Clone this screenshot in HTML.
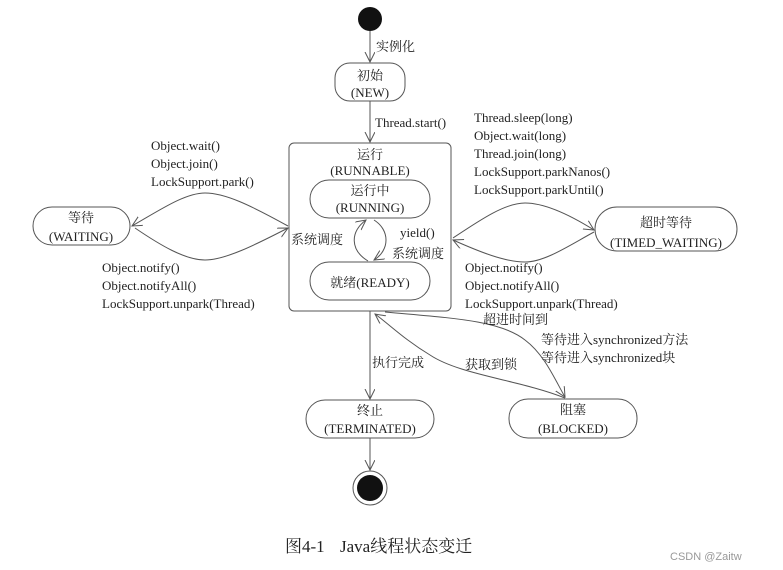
<!DOCTYPE html>
<html><head><meta charset="utf-8"><style>
html,body{margin:0;padding:0;background:#fff;}
svg{display:block;}
text{font-family:"Liberation Serif","Noto Serif CJK SC",serif;font-size:13px;fill:#222;}
.c{text-anchor:middle;}
</style></head><body>
<svg width="783" height="570" viewBox="0 0 783 570" xmlns="http://www.w3.org/2000/svg">
<defs>
<marker id="a" markerWidth="12" markerHeight="12" refX="10" refY="5" orient="auto" markerUnits="userSpaceOnUse">
<path d="M0,0 L10,5 L0,10" fill="none" stroke="#555" stroke-width="1"/>
</marker>
</defs>
<g fill="none" stroke="#555" stroke-width="1">
<line x1="370" y1="31" x2="370" y2="62" marker-end="url(#a)"/>
<rect x="335" y="63" width="70" height="38" rx="15"/>
<line x1="370" y1="101" x2="370" y2="142" marker-end="url(#a)"/>
<rect x="289" y="143" width="162" height="168" rx="5"/>
<rect x="310" y="180" width="120" height="38" rx="19"/>
<rect x="310" y="262" width="120" height="38" rx="19"/>
<path d="M368,261 C350,250 350,232 366,220" marker-end="url(#a)"/>
<path d="M374,220 C390,230 390,250 374,260" marker-end="url(#a)"/>
<rect x="33" y="207" width="97" height="38" rx="19"/>
<path d="M288,226 C250,205 225,193 205,193 C185,193 160,210 132,226" marker-end="url(#a)"/>
<path d="M135,228 C160,245 185,260 205,260 C225,260 255,245 288,228" marker-end="url(#a)"/>
<rect x="595" y="207" width="142" height="44" rx="22"/>
<path d="M453,238 C480,220 505,203 525,203 C545,203 570,215 594,230" marker-end="url(#a)"/>
<path d="M594,232 C570,245 545,262 525,262 C505,262 480,252 453,240" marker-end="url(#a)"/>
<line x1="370" y1="311" x2="370" y2="399" marker-end="url(#a)"/>
<rect x="306" y="400" width="128" height="38" rx="19"/>
<line x1="370" y1="438" x2="370" y2="470" marker-end="url(#a)"/>
<rect x="509" y="399" width="128" height="39" rx="19"/>
<path d="M565,398 C520,380 460,375 430,355 C405,340 390,325 375,314" marker-end="url(#a)"/>
<path d="M385,312 C450,318 500,320 525,340 C545,355 555,380 565,397" marker-end="url(#a)"/>
</g>
<circle cx="370" cy="19" r="12" fill="#111"/>
<circle cx="370" cy="488" r="17" fill="#fff" stroke="#555"/>
<circle cx="370" cy="488" r="13" fill="#111"/>
<text x="376" y="51">实例化</text>
<text class="c" x="370" y="80">初始</text>
<text class="c" x="370" y="97">(NEW)</text>
<text x="375" y="127">Thread.start()</text>
<text class="c" x="370" y="159">运行</text>
<text class="c" x="370" y="175">(RUNNABLE)</text>
<text class="c" x="370" y="195">运行中</text>
<text class="c" x="370" y="212">(RUNNING)</text>
<text class="c" x="370" y="287">就绪(READY)</text>
<text x="291" y="244">系统调度</text>
<text x="400" y="237">yield()</text>
<text x="392" y="258">系统调度</text>
<text class="c" x="81" y="222">等待</text>
<text class="c" x="81" y="241">(WAITING)</text>
<text x="151" y="150">Object.wait()</text>
<text x="151" y="168">Object.join()</text>
<text x="151" y="186">LockSupport.park()</text>
<text x="102" y="272">Object.notify()</text>
<text x="102" y="290">Object.notifyAll()</text>
<text x="102" y="308">LockSupport.unpark(Thread)</text>
<text class="c" x="666" y="227">超时等待</text>
<text class="c" x="666" y="247">(TIMED_WAITING)</text>
<text x="474" y="122">Thread.sleep(long)</text>
<text x="474" y="140">Object.wait(long)</text>
<text x="474" y="158">Thread.join(long)</text>
<text x="474" y="176">LockSupport.parkNanos()</text>
<text x="474" y="194">LockSupport.parkUntil()</text>
<text x="465" y="272">Object.notify()</text>
<text x="465" y="290">Object.notifyAll()</text>
<text x="465" y="308">LockSupport.unpark(Thread)</text>
<text x="483" y="324">超进时间到</text>
<text x="541" y="344">等待进入synchronized方法</text>
<text x="541" y="362">等待进入synchronized块</text>
<text x="372" y="367">执行完成</text>
<text x="465" y="369">获取到锁</text>
<text class="c" x="370" y="415">终止</text>
<text class="c" x="370" y="433">(TERMINATED)</text>
<text class="c" x="573" y="414">阻塞</text>
<text class="c" x="573" y="433">(BLOCKED)</text>
<text x="285" y="552" style="font-size:17px">图4-1</text>
<text x="340" y="552" style="font-size:17px">Java线程状态变迁</text>
<text x="670" y="560" style="font-family:'Liberation Sans','Noto Sans CJK SC',sans-serif;font-size:11px;fill:#999">CSDN @Zaitw</text>
</svg>
</body></html>
